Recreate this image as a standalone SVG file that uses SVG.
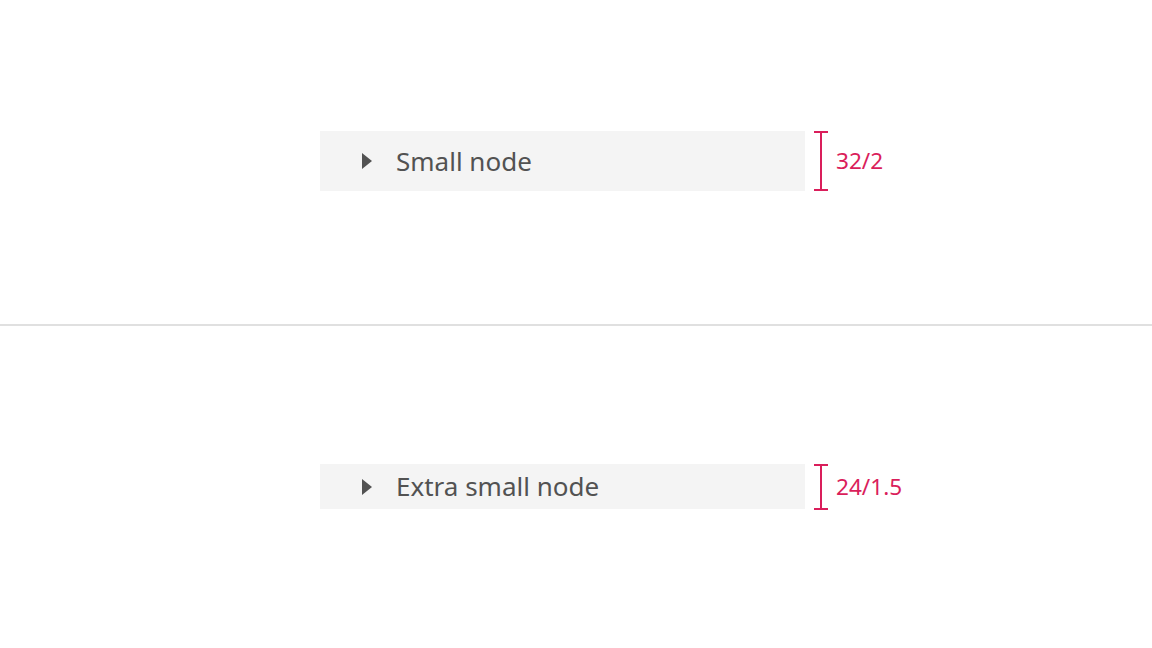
<svg xmlns="http://www.w3.org/2000/svg" width="1152" height="648" viewBox="0 0 1152 648">
<style>
.bg{fill:#f4f4f4}
.lbl{font-family:"Noto Sans","Open Sans",sans-serif;font-size:26px;fill:#525252}
.tri{fill:#525252}
.dim{stroke:#da1e5b;stroke-width:2;fill:none}
.dimt{font-family:"Noto Sans","Open Sans",sans-serif;font-size:22.6px;fill:#da1e5b}
</style>
<rect width="1152" height="648" fill="#ffffff"/>
<line x1="0" y1="325" x2="1152" y2="325" stroke="#e0e0e0" stroke-width="2"/>
<g id="small-node">
<rect class="bg" x="320" y="131" width="485" height="60"/>
<polygon class="tri" points="362,153 372,161 362,169"/>
<text class="lbl" x="396" y="171">Small node</text>
</g>
<g id="xsmall-node">
<rect class="bg" x="320" y="464" width="485" height="45"/>
<polygon class="tri" points="362,479 372,487 362,495"/>
<text class="lbl" x="396" y="496">Extra small node</text>
</g>
<g id="connectors">
<path class="dim" d="M814,132 H828 M821,132 V190 M814,190 H828"/>
<text class="dimt" x="836" y="169">32/2</text>
<path class="dim" d="M814,465 H828 M821,465 V509 M814,509 H828"/>
<text class="dimt" x="836" y="495">24/1.5</text>
</g>
</svg>
